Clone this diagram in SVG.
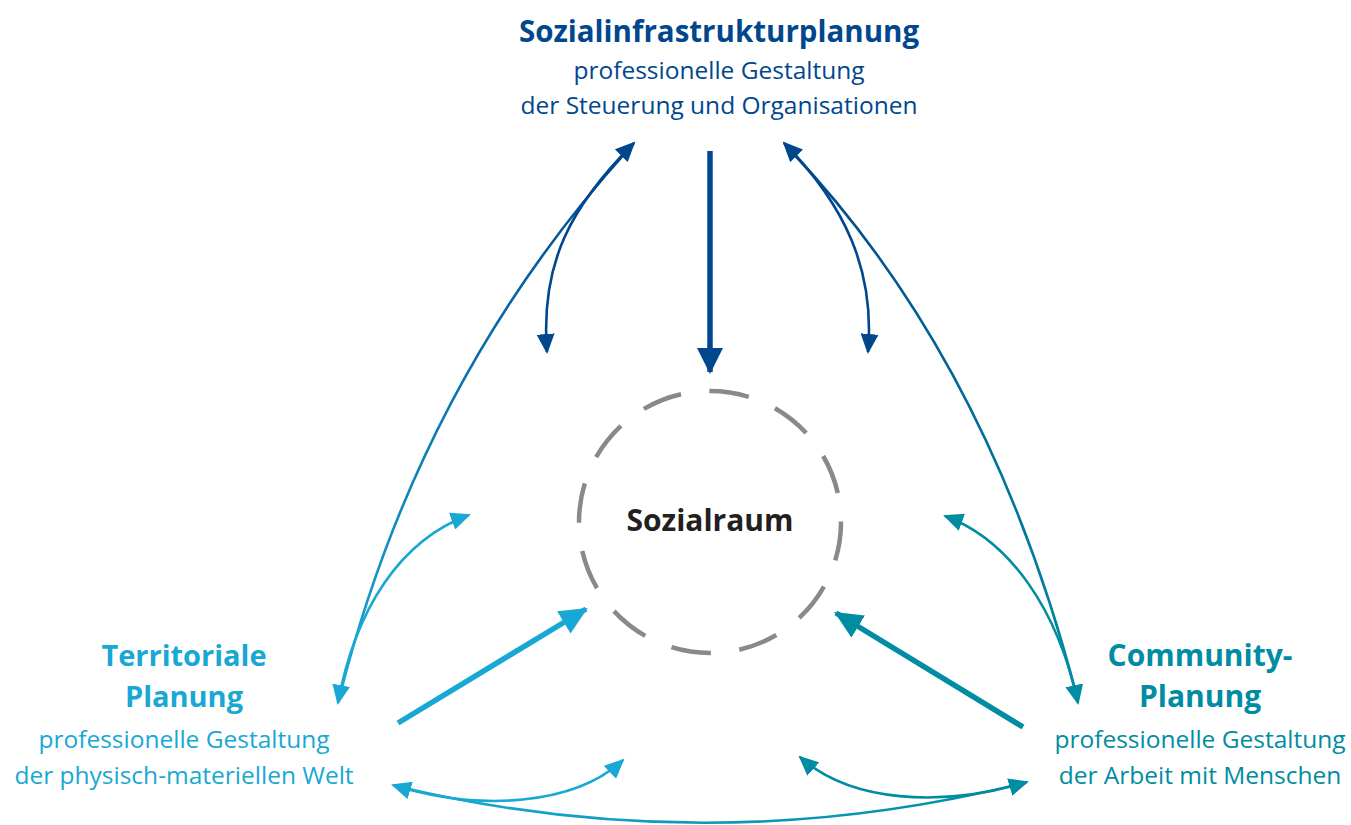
<svg xmlns="http://www.w3.org/2000/svg" width="1351" height="825" viewBox="0 0 1351 825">
<style>
.t{font-family:"Open Sans",Lato,"Liberation Sans",sans-serif;text-anchor:middle}
.h{font-weight:bold}
.s{font-size:24.5px}
.dk{fill:#00478d}
.lb{fill:#18a8d3}
.tl{fill:#008ca2}
.thin{fill:none;stroke-width:2.6}
.thick{fill:none;stroke-width:5.5}
</style>
<defs>
<marker id="mDk" markerUnits="userSpaceOnUse" viewBox="0 0 20 18" refX="18" refY="9" markerWidth="20" markerHeight="18" orient="auto-start-reverse"><path d="M0,0 L20,9 L0,18 z" fill="#00478d"/></marker>
<marker id="mLb" markerUnits="userSpaceOnUse" viewBox="0 0 20 18" refX="18" refY="9" markerWidth="20" markerHeight="18" orient="auto-start-reverse"><path d="M0,0 L20,9 L0,18 z" fill="#18a8d3"/></marker>
<marker id="mTl" markerUnits="userSpaceOnUse" viewBox="0 0 20 18" refX="18" refY="9" markerWidth="20" markerHeight="18" orient="auto-start-reverse"><path d="M0,0 L20,9 L0,18 z" fill="#008ca2"/></marker>
<marker id="MDk" markerUnits="userSpaceOnUse" viewBox="0 0 26 26" refX="24" refY="13" markerWidth="26" markerHeight="26" orient="auto"><path d="M0,0 L26,13 L0,26 z" fill="#00478d"/></marker>
<marker id="MLb" markerUnits="userSpaceOnUse" viewBox="0 0 28 26" refX="26" refY="13" markerWidth="28" markerHeight="26" orient="auto"><path d="M0,0 L28,13 L0,26 z" fill="#18a8d3"/></marker>
<marker id="MTl" markerUnits="userSpaceOnUse" viewBox="0 0 28 26" refX="26" refY="13" markerWidth="28" markerHeight="26" orient="auto"><path d="M0,0 L28,13 L0,26 z" fill="#008ca2"/></marker>
<linearGradient id="gL" gradientUnits="userSpaceOnUse" x1="630" y1="145" x2="340" y2="700"><stop offset="0" stop-color="#00478d"/><stop offset="1" stop-color="#18a8d3"/></linearGradient>
<linearGradient id="gR" gradientUnits="userSpaceOnUse" x1="788" y1="145" x2="1078" y2="700"><stop offset="0" stop-color="#00478d"/><stop offset="1" stop-color="#008ca2"/></linearGradient>
<linearGradient id="gB" gradientUnits="userSpaceOnUse" x1="395" y1="790" x2="1025" y2="790"><stop offset="0" stop-color="#18a8d3"/><stop offset="1" stop-color="#008ca2"/></linearGradient>
</defs>

<g id="connectors">
<path d="M628,150 Q420,380 340,695" class="thin" stroke="url(#gL)"/>
<path d="M790,150 Q990,360 1077,697" class="thin" stroke="url(#gR)"/>
<path d="M400,787 Q710,860 1020,784" class="thin" stroke="url(#gB)"/>
<path d="M547,352 C540,262 572,205 634,143" class="thin" stroke="#00478d" marker-start="url(#mDk)" marker-end="url(#mDk)"/>
<path d="M868,352 C875,270 845,205 784,143" class="thin" stroke="#00478d" marker-start="url(#mDk)" marker-end="url(#mDk)"/>
<path d="M469,515 C400,540 355,610 338,703" class="thin" stroke="#18a8d3" marker-start="url(#mLb)" marker-end="url(#mLb)"/>
<path d="M945,516 C1010,540 1058,610 1078,703" class="thin" stroke="#008ca2" marker-start="url(#mTl)" marker-end="url(#mTl)"/>
<path d="M623,760 C575,805 480,812 393,785" class="thin" stroke="#18a8d3" marker-start="url(#mLb)" marker-end="url(#mLb)"/>
<path d="M800,757 C850,802 940,808 1027,782" class="thin" stroke="#008ca2" marker-start="url(#mTl)" marker-end="url(#mTl)"/>
<path d="M710,151 L710,372" class="thick" stroke="#00478d" marker-end="url(#MDk)"/>
<path d="M398,723 L586,609" class="thick" stroke="#18a8d3" marker-end="url(#MLb)"/>
<path d="M1023,727 L836,613" class="thick" stroke="#008ca2" marker-end="url(#MTl)"/>
</g>

<g id="sozialraum">
<circle cx="710" cy="522" r="131" fill="none" stroke="#88898c" stroke-width="4.5" stroke-dasharray="40 28.6" stroke-dashoffset="1"/>
<text x="710" y="531" class="t h" font-size="30" fill="#231f20">Sozialraum</text>
</g>

<g id="sozialinfrastrukturplanung">
<text x="719" y="42" class="t h dk" font-size="29.5">Sozialinfrastrukturplanung</text>
<text x="719" y="79" class="t s dk">professionelle Gestaltung</text>
<text x="719" y="114" class="t s dk">der Steuerung und Organisationen</text>
</g>

<g id="territoriale-planung">
<text x="184" y="666" class="t h lb" font-size="29">Territoriale</text>
<text x="184" y="707" class="t h lb" font-size="29">Planung</text>
<text x="184" y="748" class="t s lb">professionelle Gestaltung</text>
<text x="184" y="784" class="t s lb">der physisch-materiellen Welt</text>
</g>

<g id="community-planung">
<text x="1200" y="666" class="t h tl" font-size="30">Community-</text>
<text x="1200" y="707" class="t h tl" font-size="30">Planung</text>
<text x="1200" y="748" class="t s tl">professionelle Gestaltung</text>
<text x="1200" y="784" class="t s tl">der Arbeit mit Menschen</text>
</g>
</svg>
